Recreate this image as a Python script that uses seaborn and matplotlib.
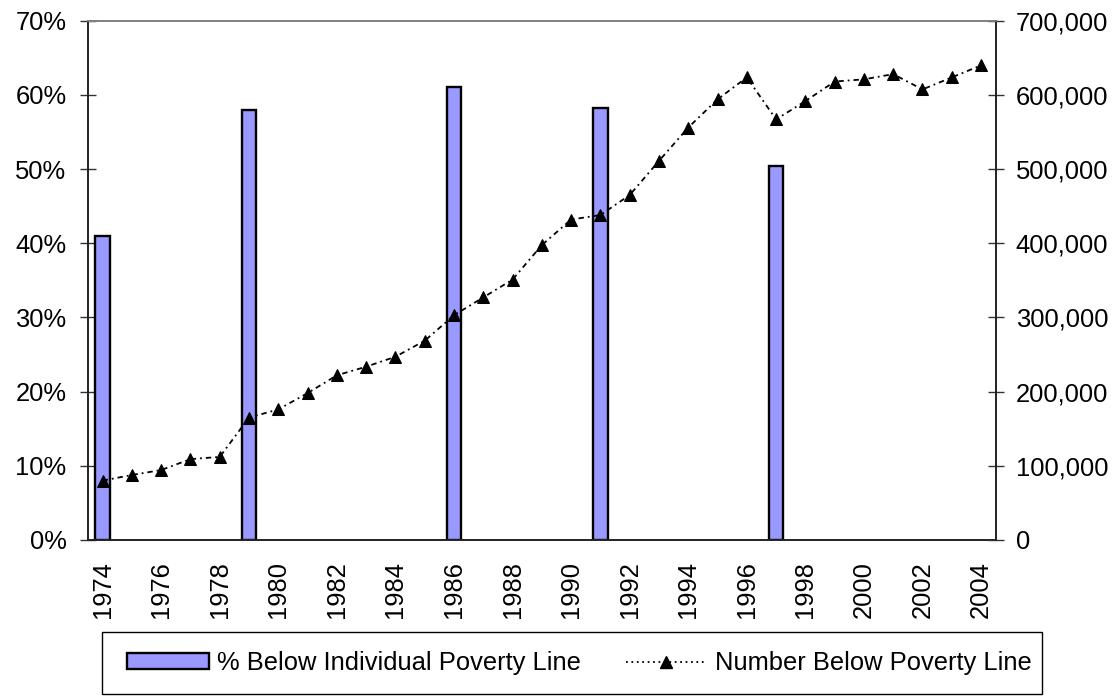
import numpy as np
import pandas as pd
import matplotlib
matplotlib.use("Agg")
import matplotlib.pyplot as plt
import seaborn as sns
from matplotlib.patches import Patch, Rectangle
from matplotlib.lines import Line2D
from matplotlib.ticker import FuncFormatter

# Data
years = list(range(1974, 2005))
survey_years = [1974, 1979, 1986, 1991, 1997]
pct_below_line = [41.0, 57.9, 61.1, 58.2, 50.4]
number_below_line = [80000, 87600, 94300, 109000, 112000, 165000, 176000,
                     198000, 222000, 233600, 247000, 268600, 303000, 327000,
                     351000, 397600, 432000, 438000, 465000, 511000, 556000,
                     594000, 623600, 567000, 591600, 618000, 621000, 628000,
                     607400, 623600, 639800]
year_labels = [str(y) for y in years[::2]]
bar_label = "% Below Individual Poverty Line"
line_label = "Number Below Poverty Line"

sns.set_theme(style="white")
plt.rcParams["font.family"] = ["Liberation Sans", "DejaVu Sans"]
plt.rcParams["font.size"] = 18.4
for key in ("text.color", "axes.labelcolor", "xtick.color", "ytick.color"):
    plt.rcParams[key] = "black"

BAR_COLOR = "#9999FF"
LINE_DASH = (0, (3, 2.2, 1, 2.2))
FS = 18.4
W, H = 1118, 698

fig = plt.figure(figsize=(W / 100, H / 100), dpi=100)
ax = fig.add_axes([0.0787, 0.2264, 0.8119, 0.7439])

bars = pd.DataFrame({"year": survey_years, "pct": pct_below_line})
sns.barplot(data=bars, x="year", y="pct", order=years, ax=ax,
            color=BAR_COLOR, saturation=1, width=0.49,
            edgecolor="black", linewidth=1.7, errorbar=None)

ax.set_xlim(-0.5, len(years) - 0.5)
ax.set_ylim(0, 70)
ax.set_yticks(range(0, 71, 10))
ax.yaxis.set_major_formatter(FuncFormatter(lambda v, p: f"{v:.0f}%"))
ax.set_xticks(range(0, len(years), 2))
ax.set_xticklabels(year_labels, rotation=90)
ax.set_xticks(np.arange(-0.5, len(years) - 1, 2), minor=True)
ax.tick_params(axis="x", which="major", length=0, pad=15, labelsize=FS,
               labelcolor="black")
ax.tick_params(axis="x", which="minor", length=11, width=1.0,
               direction="inout", color="#333333")
ax.tick_params(axis="y", length=11, width=1.0, direction="inout",
               pad=10, color="#333333", labelsize=FS, labelcolor="black")
ax.set_xlabel("")
ax.set_ylabel("")

ax2 = ax.twinx()
positions = np.arange(len(years))
sns.lineplot(x=positions, y=number_below_line, ax=ax2, color="black",
             marker="^", markersize=9, markeredgecolor="black",
             linewidth=1.3)
for ln in ax2.get_lines():
    ln.set_linestyle(LINE_DASH)
ax2.set_ylim(0, 700000)
ax2.set_yticks(range(0, 700001, 100000))
ax2.yaxis.set_major_formatter(FuncFormatter(lambda v, p: f"{v:,.0f}"))
ax2.tick_params(axis="y", length=11, width=1.0, direction="inout",
                pad=9, color="#333333", labelsize=FS, labelcolor="black")
ax2.set_xlabel("")
ax2.set_ylabel("")

# Frame: gray top border, dark axis lines
for a in (ax, ax2):
    a.spines["top"].set_color("#808080")
    a.spines["top"].set_linewidth(1.2)
ax.spines["right"].set_visible(False)
ax2.spines["left"].set_visible(False)
ax2.spines["bottom"].set_visible(False)
for sp in (ax.spines["left"], ax.spines["bottom"], ax2.spines["right"]):
    sp.set_color("#222222")
    sp.set_linewidth(1.4)

# Legend box
fig.patches.append(Rectangle((102 / W, 1 - 694 / H), 940 / W, 62 / H,
                             transform=fig.transFigure, facecolor="white",
                             edgecolor="black", linewidth=1.0, zorder=0))
handles = [
    Patch(facecolor=BAR_COLOR, edgecolor="black", linewidth=1.7, label=bar_label),
    Line2D([], [], color="black", linestyle=(0, (1, 2)), linewidth=1.3,
           marker="^", markersize=9, label=line_label),
]
fig.legend(handles=handles, ncol=2, loc="center",
           bbox_to_anchor=(127 / W, 1 - 694 / H, 905 / W, 62 / H),
           mode="expand", frameon=False, handlelength=3.2, handleheight=0.56,
           handletextpad=0.31, borderpad=0, borderaxespad=0, fontsize=FS,
           labelcolor="black")

fig.savefig("out.png", dpi=100)
